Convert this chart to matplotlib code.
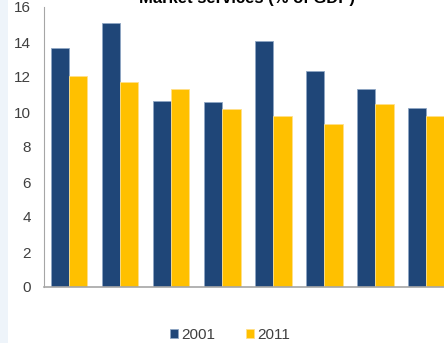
import matplotlib
matplotlib.use("Agg")
import matplotlib.pyplot as plt
from matplotlib.patches import Rectangle
import numpy as np

plt.rcParams['font.family'] = ['Liberation Sans', 'DejaVu Sans']

groups = ["G1", "G2", "G3", "G4", "G5", "G6", "G7", "G8"]
series_names = ["2001", "2011"]
values_2001 = [13.67, 15.10, 10.63, 10.57, 14.07, 12.36, 11.30, 10.23]
values_2011 = [12.04, 11.73, 11.33, 10.19, 9.77, 9.33, 10.44, 9.77]
yticks = [0, 2, 4, 6, 8, 10, 12, 14, 16]
title = "Market services (% of GDP)"

blue = "#1F4678"
yellow = "#FFC000"

fig = plt.figure(figsize=(4.44, 3.43), dpi=100)
fig.patches.append(Rectangle((0, 0), 8/444, 1, transform=fig.transFigure,
                             facecolor="#EEF4FA", edgecolor="none", zorder=0))

ax = fig.add_axes([43.5/444, 1 - 287/343, 408.3/444, 280/343])
x = np.arange(len(groups))
w = 0.36
ax.bar(x - w/2, values_2001, w, color=blue, edgecolor="#8FA6C4", linewidth=0.6, label=series_names[0])
ax.bar(x + w/2, values_2011, w, color=yellow, edgecolor="#FFE08A", linewidth=0.6, label=series_names[1])

ax.set_xlim(-0.5, len(groups) - 0.5)
ax.set_ylim(0, 16)
ax.set_yticks(yticks)
ax.set_yticklabels([str(v) for v in yticks], fontsize=11, color="#404040")
ax.tick_params(axis='y', length=0, pad=9)
ax.set_xticks([])
for s in ["top", "right"]:
    ax.spines[s].set_visible(False)
ax.spines["left"].set_color("#A6A6A6")
ax.spines["bottom"].set_color("#A6A6A6")
ax.spines["bottom"].set_linewidth(1.2)
ax.set_facecolor("none")

fig.text(247/444, 1 - 3.5/343, title, ha="center", va="baseline",
         fontsize=12, fontweight="bold", color="#000000")

leg = fig.legend(loc="center", bbox_to_anchor=(230/444, 1 - 335/343), ncol=2,
                 frameon=False, fontsize=11, handlelength=0.55, handleheight=0.55,
                 handletextpad=0.2, columnspacing=2.0, borderaxespad=0)
for t in leg.get_texts():
    t.set_color("#404040")

fig.savefig("out.png", dpi=100)
